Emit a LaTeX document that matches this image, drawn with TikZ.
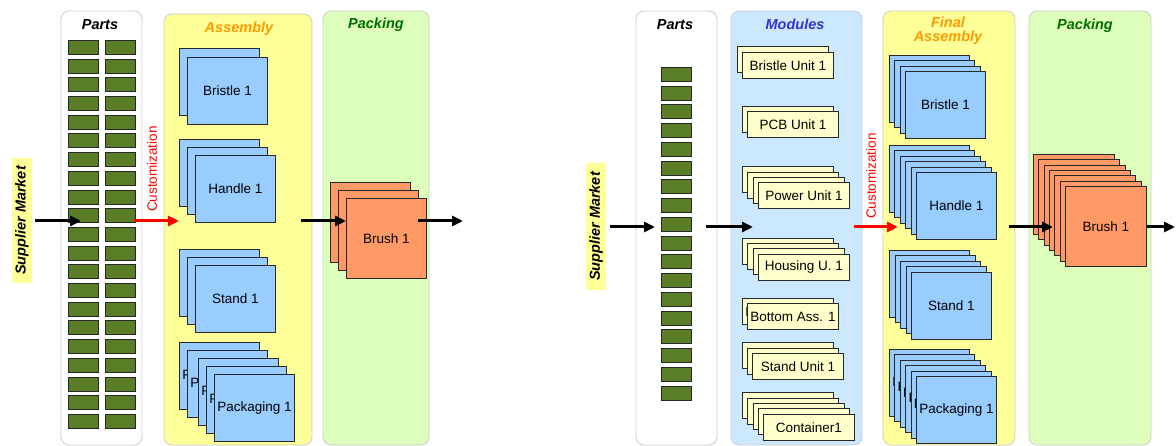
\documentclass[tikz,border=0pt]{standalone}
\usepackage{fontspec}
\setmainfont{Liberation Sans}
\usetikzlibrary{arrows.meta}
\definecolor{partgreen}{RGB}{90,125,40}
\definecolor{sqblue}{RGB}{153,204,255}
\definecolor{sqorange}{RGB}{255,153,102}
\definecolor{modyellow}{RGB}{255,255,204}
\definecolor{asmyellow}{RGB}{255,255,153}
\definecolor{packgreen}{RGB}{221,255,187}
\definecolor{modblue}{RGB}{204,232,255}
\definecolor{hdrorange}{RGB}{255,153,0}
\definecolor{hdrgreen}{RGB}{0,110,0}
\definecolor{hdrblue}{RGB}{51,51,204}
\definecolor{edge}{RGB}{40,40,40}
\tikzset{
  panel/.style={draw=black!20, line width=0.8pt, rounded corners=8pt},
  hdr/.style={font=\fontsize{14.5}{16}\selectfont\bfseries\itshape, inner sep=0pt, align=center},
  lbl/.style={font=\fontsize{13.5}{15}\selectfont},
  part/.style={draw=edge, fill=partgreen, line width=0.8pt, minimum width=30pt, minimum height=14pt, inner sep=0pt, anchor=north west},
  bsq/.style={lbl, draw=edge, fill=sqblue, line width=0.9pt, minimum width=80pt, minimum height=67pt, inner sep=0pt, anchor=north west},
  osq/.style={lbl, draw=edge, fill=sqorange, line width=0.9pt, minimum width=80pt, minimum height=80pt, inner sep=0pt, anchor=north west},
  modbox/.style={lbl, draw=edge, fill=modyellow, line width=0.9pt, minimum width=91pt, minimum height=26pt, inner sep=0pt, anchor=north west},
  supp/.style={fill=asmyellow, font=\fontsize{14.5}{16}\selectfont\bfseries\itshape, rotate=90, minimum width=125pt, minimum height=20pt, inner sep=0pt},
  arr/.style={line width=3pt, -{Triangle[length=11pt,width=10pt]}},
  redarr/.style={arr, red},
}
\begin{document}
\begin{tikzpicture}[x=1pt,y=-1pt]
\useasboundingbox (0,0) rectangle (1176,446);
% ---------- LEFT ----------
\draw[panel, fill=white] (61,11) rectangle (142,445);
\draw[panel, fill=asmyellow] (164,14) rectangle (312,445);
\draw[panel, fill=packgreen] (323,11) rectangle (429,445);
\node[hdr] (lparts) at (100,25) {Parts};
\node[hdr, text=hdrorange] (lasm) at (239,29) {Assembly};
\node[hdr, text=hdrgreen] (lpack) at (376,25) {Packing};
\foreach \i in {0,...,20}{
  \node[part] (lpa\i) at (68,40+\i*18.7) {};
  \node[part] (lpb\i) at (105,40+\i*18.7) {};
}
% assembly
\node[bsq] (lb1) at (179,48) {Bristle 1};
\node[bsq] (lb2) at (187,57) {Bristle 1};
\foreach \i in {0,1,2}{\node[bsq] (lh\i) at (179+\i*8,139+\i*8) {Handle 1};}
\foreach \i in {0,1,2}{\node[bsq] (ls\i) at (179+\i*8,249+\i*8) {Stand 1};}
\node[bsq] (lp0) at (179,342) {Packaging 1};
\node[bsq] (lp1) at (187,350) {Packaging 1};
\node[bsq] (lp2) at (198,358) {Packaging 1};
\node[bsq] (lp3) at (206,366) {Packaging 1};
\node[bsq] (lp4) at (214,374) {Packaging 1};
\foreach \i in {0,1,2}{\node[osq] (lbr\i) at (330+\i*8,182+\i*8) {Brush 1};}
% supplier + arrows
\node[supp] (lsm) at (22,220.5) {Supplier Market};
\node[lbl, text=red, rotate=90, inner sep=0pt] (lcust) at (152,169) {Customization};
\coordinate (la1) at (81,221);
\coordinate (la2s) at (134,221);
\coordinate (la2e) at (179,221);
\coordinate (la3s) at (301,221);
\coordinate (la4s) at (418,221);
\coordinate (la4e) at (463,221);
\draw[arr] ([xshift=3pt]lsm.south |- la1) -- (la1);
\draw[redarr] (la2s) -- (la2e);
\draw[arr] (la3s) -- (lbr2.west |- la3s);
\draw[arr] (la4s) -- (la4e);
% ---------- RIGHT ----------
\draw[panel, fill=white] (636,11) rectangle (717,445);
\draw[panel, fill=modblue] (731,11) rectangle (862,445);
\draw[panel, fill=asmyellow] (883,11) rectangle (1015,445);
\draw[panel, fill=packgreen] (1029,11) rectangle (1151,445);
\node[hdr] (rparts) at (675,25) {Parts};
\node[hdr, text=hdrblue] (rmod) at (795,24) {Modules};
\node[hdr, text=hdrorange] (rasm) at (948,31) {Final\\[-2pt]Assembly};
\node[hdr, text=hdrgreen] (rpack) at (1085,26) {Packing};
\foreach \i in {0,...,17}{\node[part] (rpa\i) at (661,67+\i*18.75) {};}
% modules
\node[modbox] (mb0) at (737,46) {Bristle Unit 1};
\node[modbox] (mb1) at (742,52) {Bristle Unit 1};
\node[modbox] (mp0) at (742,106) {PCB Unit 1};
\node[modbox] (mp1) at (747,111) {PCB Unit 1};
\node[modbox] (mw0) at (742,166) {Power Unit 1};
\node[modbox] (mw1) at (747,172) {Power Unit 1};
\node[modbox] (mw2) at (753,177) {Power Unit 1};
\node[modbox] (mw3) at (758,182) {Power Unit 1};
\node[modbox] (mh0) at (742,238) {Housing U. 1};
\node[modbox] (mh1) at (747,243) {Housing U. 1};
\node[modbox] (mh2) at (753,248) {Housing U. 1};
\node[modbox] (mh3) at (758,254) {Housing U. 1};
\node[modbox] (mo0) at (742,298) {Bottom Ass. 1};
\node[modbox] (mo1) at (747,303) {Bottom Ass. 1};
\node[modbox] (ms0) at (742,342) {Stand Unit 1};
\node[modbox] (ms1) at (747,348) {Stand Unit 1};
\node[modbox] (ms2) at (752,353) {Stand Unit 1};
\node[modbox] (mc0) at (742,392) {Container1};
\node[modbox] (mc1) at (747,398) {Container1};
\node[modbox] (mc2) at (753,403) {Container1};
\node[modbox] (mc3) at (758,408) {Container1};
\node[modbox] (mc4) at (763,414) {Container1};
% final assembly
\foreach \i in {0,...,3}{\node[bsq] (rb\i) at (889+\i*5.33,55+\i*5.33) {Bristle 1};}
\foreach \i in {0,...,5}{\node[bsq] (rh\i) at (889+\i*5.4,145+\i*5.4) {Handle 1};}
\foreach \i in {0,...,4}{\node[bsq] (rs\i) at (889+\i*5.5,250+\i*5.5) {Stand 1};}
\foreach \i in {0,...,5}{\node[bsq] (rp\i) at (889+\i*5.4,349+\i*5.4) {Packaging 1};}
\foreach \i in {0,...,6}{\node[osq, minimum width=81pt] (rbr\i) at (1033+\i*5.33,154+\i*5.33) {Brush 1};}
% supplier + arrows
\node[supp, minimum width=127pt] (rsm) at (596,226.5) {Supplier Market};
\node[lbl, text=red, rotate=90, inner sep=0pt] (rcust) at (871,176) {Customization};
\coordinate (ra1) at (655,227);
\coordinate (ra2s) at (706,227);
\coordinate (ra2e) at (753,227);
\coordinate (ra3s) at (854,227);
\coordinate (ra3e) at (898,227);
\coordinate (ra4s) at (1009,227);
\coordinate (ra4e) at (1053,227);
\coordinate (ra5e) at (1175,227);
\draw[arr] ([xshift=4pt]rsm.south |- ra1) -- (ra1);
\draw[arr] (ra2s) -- (ra2e);
\draw[redarr] (ra3s) -- (ra3e);
\draw[arr] (ra4s) -- (ra4e);
\draw[arr] (rbr6.east |- ra5e) -- (ra5e);
\end{tikzpicture}
\end{document}
